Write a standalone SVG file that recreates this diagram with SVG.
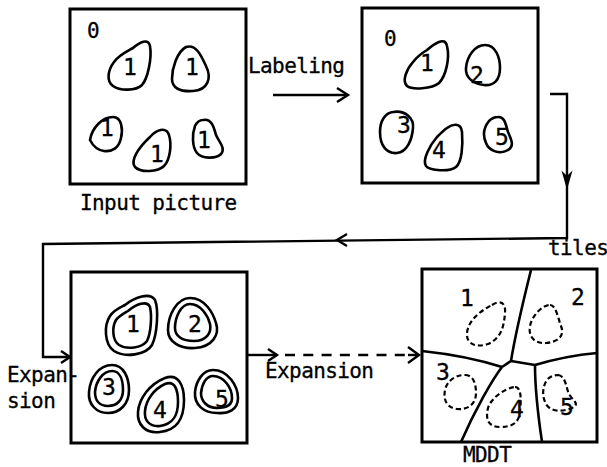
<svg xmlns="http://www.w3.org/2000/svg" width="607" height="467" viewBox="0 0 607 467">
<style>
.box{fill:none;stroke:#000;stroke-width:3}
.blob{fill:none;stroke:#000;stroke-width:2.6;stroke-linejoin:round}
.dash{fill:none;stroke:#000;stroke-width:2.2;stroke-dasharray:5 3}
.line{fill:none;stroke:#000;stroke-width:2.6}
.con{fill:none;stroke:#000;stroke-width:2.4}
.head{fill:none;stroke:#000;stroke-width:2.4;stroke-linejoin:miter}
.t{font-family:"DejaVu Sans Mono","Liberation Mono",monospace;font-size:21px;letter-spacing:-0.6px;fill:#000;stroke:#000;stroke-width:0.3}
.d{font-family:"DejaVu Sans Mono","Liberation Mono",monospace;font-size:23px;fill:#000;text-anchor:middle;stroke:#000;stroke-width:0.3}
.z{font-family:"DejaVu Sans Mono","Liberation Mono",monospace;font-size:21px;fill:#000;stroke:#000;stroke-width:0.3}
</style>
<rect width="607" height="467" fill="#fff"/>

<g id="input-picture">
<rect class="box" x="70" y="9" width="176" height="175"/>
<text class="z" x="87" y="38">0</text>
<path class="blob" d="M133,48 C140,42 148,38 150,46 C152,58 148,78 142,85 C136,91 120,91 113,86 C106,81 108,70 114,62 C119,55 126,52 133,48 Z"/>
<path class="blob" d="M186,47 C196,44 201,55 206,66 C212,78 208,90 193,91 C180,92 172,88 172,79 C172,68 177,52 186,47 Z"/>
<path class="blob" d="M90,140 C92,128 102,117 113,117 C122,117 123,130 121,138 C119,148 112,152 104,151 C97,150 93,146 90,140 Z"/>
<path class="blob" d="M150,137 C156,130 166,126 169,135 C172,145 170,160 164,166 C158,172 141,173 135,167 C130,161 138,148 150,137 Z"/>
<path class="blob" d="M203,120 C212,118 214,128 216,135 C219,142 226,148 221,154 C216,159 202,159 197,153 C192,147 192,134 195,126 C197,122 200,120 203,120 Z"/>
<text class="d" x="130" y="75">1</text>
<text class="d" x="192" y="75">1</text>
<text class="d" x="107" y="136">1</text>
<text class="d" x="157" y="162">1</text>
<text class="d" x="204" y="148">1</text>
<text class="t" x="80" y="210">Input picture</text>
</g>

<g id="labeled-picture">
<rect class="box" x="362" y="8" width="176" height="175"/>
<text class="z" x="384" y="46">0</text>
<path class="blob" d="M427,50 C434,44 445,36 447,46 C450,58 446,76 439,83 C432,89 412,90 407,86 C402,81 406,70 413,62 C417,57 422,53 427,50 Z"/>
<path class="blob" d="M485,45 C496,45 500,58 500,68 C500,80 494,86 484,85 C474,84 465,78 466,68 C467,56 475,45 485,45 Z"/>
<path class="blob" d="M393,112 C405,110 414,118 413,128 C412,140 407,152 397,153 C387,154 380,146 380,132 C380,121 385,113 393,112 Z"/>
<path class="blob" d="M447,128 C452,124 461,122 462,132 C463,145 462,162 456,167 C450,172 430,171 426,166 C422,160 430,145 437,137 C441,133 444,130 447,128 Z"/>
<path class="blob" d="M498,117 C505,116 506,126 508,132 C511,139 515,146 508,150 C500,155 489,151 486,143 C482,134 485,126 489,121 C492,118 495,117 498,117 Z"/>
<text class="d" x="427" y="71">1</text>
<text class="d" x="477" y="83">2</text>
<text class="d" x="404" y="133">3</text>
<text class="d" x="439" y="158">4</text>
<text class="d" x="502" y="145">5</text>
</g>

<g id="expanded-picture">
<rect class="box" x="71" y="272" width="176" height="171"/>
<path class="blob" d="M125,305 C135,297 150,292 155,300 C159,310 157,335 152,345 C146,355 125,358 114,351 C104,344 104,325 110,316 C114,310 119,308 125,305 Z"/>
<path class="blob" d="M128,311 C136,304 147,300 150,307 C152,316 151,333 147,341 C142,348 127,350 119,345 C112,340 112,327 116,320 C119,316 123,314 128,311 Z"/>
<path class="blob" d="M190,298 C205,298 213,313 216,323 C220,335 212,347 195,348 C180,349 168,342 168,330 C168,315 177,298 190,298 Z"/>
<path class="blob" d="M190,304 C201,304 208,316 210,324 C212,333 206,341 194,341 C182,341 175,336 175,328 C175,317 181,304 190,304 Z"/>
<path class="blob" d="M112,365 C124,365 129,378 129,390 C129,404 120,413 108,413 C96,413 88,404 89,392 C90,378 99,365 112,365 Z"/>
<path class="blob" d="M112,371 C120,371 123,380 123,390 C123,400 117,406 108,406 C99,406 95,400 95,392 C96,381 103,371 112,371 Z"/>
<path class="blob" d="M165,378 C178,373 184,385 184,400 C184,418 178,430 160,432 C145,434 137,424 138,412 C139,398 150,384 165,378 Z"/>
<path class="blob" d="M165,384 C175,380 178,390 178,402 C178,416 173,424 160,426 C149,427 144,420 145,411 C146,400 154,389 165,384 Z"/>
<path class="blob" d="M213,370 C228,370 238,386 238,398 C238,410 228,414 217,413 C204,413 194,405 195,392 C196,381 203,370 213,370 Z"/>
<path class="blob" d="M213,376 C224,376 232,388 232,398 C232,406 224,408 217,408 C207,408 201,401 201,393 C202,384 206,376 213,376 Z"/>
<text class="d" x="133" y="332">1</text>
<text class="d" x="195" y="332">2</text>
<text class="d" x="109" y="395">3</text>
<text class="d" x="160" y="418">4</text>
<text class="d" x="222" y="407">5</text>
</g>

<g id="mddt">
<rect class="box" x="422" y="269" width="175" height="173"/>
<path class="line" d="M531,270 C526,290 516,330 511,361"/>
<path class="line" d="M422,351 C450,354 480,360 502,367"/>
<path class="line" d="M511,361 L502,367"/>
<path class="line" d="M502,367 C492,380 475,410 461,442"/>
<path class="line" d="M511,361 L535,365"/>
<path class="line" d="M535,365 C555,359 575,355 597,353"/>
<path class="line" d="M535,365 C535,385 538,415 542,442"/>
<path class="dash" d="M492,305 C500,300 506,302 505,313 C504,325 502,338 488,344 C476,348 466,344 467,333 C468,322 478,312 492,305 Z"/>
<path class="dash" d="M550,305 C556,305 558,318 561,326 C565,336 558,342 546,343 C534,344 528,336 530,326 C532,316 542,305 550,305 Z"/>
<path class="dash" d="M465,375 C474,375 476,385 476,393 C476,404 468,410 457,409 C447,408 443,400 445,390 C447,381 455,375 465,375 Z"/>
<path class="dash" d="M515,387 C522,387 521,402 520,412 C519,422 513,427 500,427 C489,427 485,420 488,408 C491,398 505,388 515,387 Z"/>
<path class="dash" d="M558,375 C566,376 566,388 569,394 C572,400 581,404 572,408 C563,412 550,412 546,404 C541,395 543,383 549,378 C552,376 555,375 558,375 Z"/>
<text class="d" x="467" y="306">1</text>
<text class="d" x="578" y="305">2</text>
<text class="d" x="443" y="380">3</text>
<text class="d" x="517" y="417">4</text>
<text class="d" x="567" y="415">5</text>
<text class="t" x="463" y="462">MDDT</text>
</g>

<g id="connectors">
<path class="con" d="M273,95 L347,95"/>
<path class="head" d="M337,88 L348,95 L337,102"/>
<text class="t" x="248" y="73">Labeling</text>

<path class="con" d="M550,94 L567,94 L567,238 L43,244 L43,357 L69,357"/>
<path d="M563,173 L567,187 L571,173 L567,177 Z" fill="#000" stroke="#000" stroke-width="1.5"/>
<path class="head" d="M347,234 L337,240 L347,246"/>
<path class="head" d="M61,351 L70,357 L61,363"/>
<text class="t" x="548" y="255">tiles</text>
<text class="t" x="7" y="382">Expan-</text>
<text class="t" x="7" y="408">sion</text>

<path class="con" d="M247,355 L277,355"/>
<path class="head" d="M268,349 L277,355 L268,361"/>
<path class="con" d="M285,355 L410,355" stroke-dasharray="10 8.3"/>
<path class="con" d="M408,355 L418,355"/>
<path class="head" d="M408,347 L419,355 L408,363"/>
<text class="t" x="265" y="378">Expansion</text>
</g>
</svg>
